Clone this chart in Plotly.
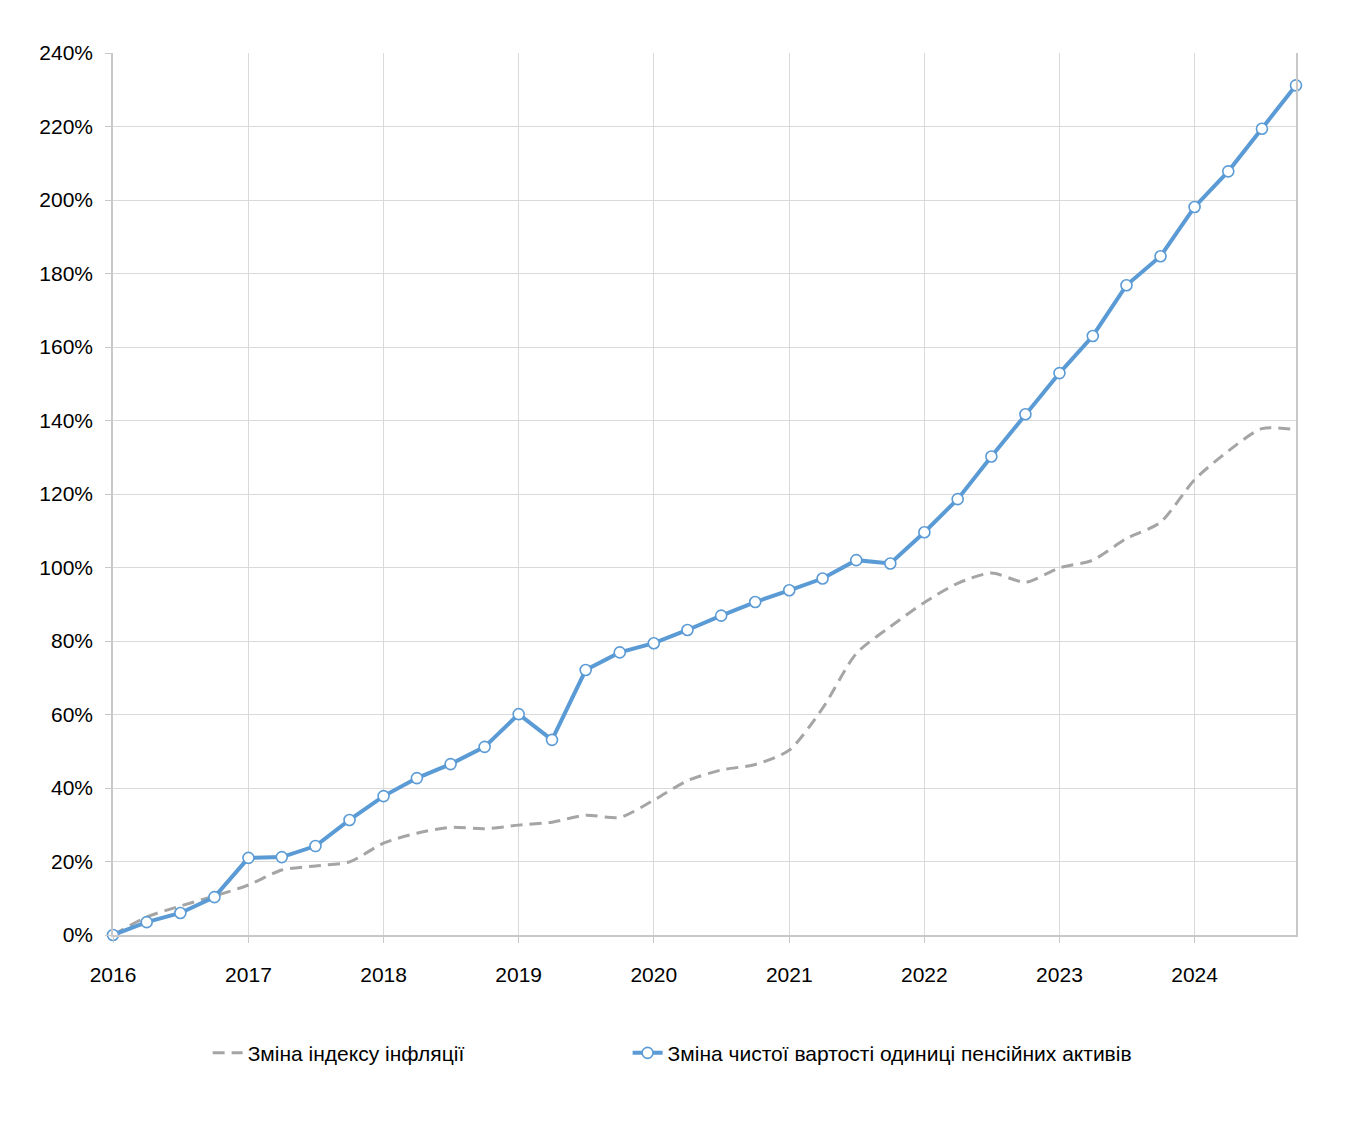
import plotly.graph_objects as go

quarters = [
    "2016-01-01", "2016-04-01", "2016-07-01", "2016-10-01",
    "2017-01-01", "2017-04-01", "2017-07-01", "2017-10-01",
    "2018-01-01", "2018-04-01", "2018-07-01", "2018-10-01",
    "2019-01-01", "2019-04-01", "2019-07-01", "2019-10-01",
    "2020-01-01", "2020-04-01", "2020-07-01", "2020-10-01",
    "2021-01-01", "2021-04-01", "2021-07-01", "2021-10-01",
    "2022-01-01", "2022-04-01", "2022-07-01", "2022-10-01",
    "2023-01-01", "2023-04-01", "2023-07-01", "2023-10-01",
    "2024-01-01", "2024-04-01", "2024-07-01", "2024-10-01",
]

inflation_change = [
    0.0, 4.9, 7.9, 10.6,
    13.6, 17.7, 18.8, 19.9,
    25.0, 27.7, 29.3, 28.9,
    29.9, 30.7, 32.6, 32.0,
    36.7, 42.0, 44.9, 46.4,
    50.3, 61.7, 76.6, 83.9,
    90.5, 95.7, 98.5, 96.0,
    99.9, 102.0, 107.9, 112.3,
    123.9, 131.7, 137.8, 137.5,
]

asset_unit_change = [
    0.0, 3.5, 6.0, 10.3,
    21.0, 21.2, 24.2, 31.3,
    37.8, 42.7, 46.5, 51.2,
    60.1, 53.1, 72.1, 76.9,
    79.4, 83.0, 86.9, 90.6,
    93.8, 97.0, 102.0, 101.1,
    109.6, 118.6, 130.2, 141.7,
    152.9, 163.0, 176.8, 184.7,
    198.1, 207.8, 219.4, 231.2,
]

y_ticks = [0, 20, 40, 60, 80, 100, 120, 140, 160, 180, 200, 220, 240]
y_tick_labels = [f"{v}%" for v in y_ticks]

series_names = [
    "Зміна індексу інфляції",
    "Зміна чистої вартості одиниці пенсійних активів",
]

FONT = "Liberation Sans, Arial, sans-serif"

fig = go.Figure()
fig.add_trace(go.Scatter(
    x=quarters, y=inflation_change, name=series_names[0],
    mode="lines", legend="legend",
    line=dict(color="#a5a5a5", width=3, dash="12px,7px", shape="spline", smoothing=0.7),
))
fig.add_trace(go.Scatter(
    x=quarters, y=asset_unit_change, name=series_names[1],
    mode="lines+markers", legend="legend2", cliponaxis=False,
    line=dict(color="#5b9bd5", width=4),
    marker=dict(symbol="circle", size=11, color="white",
                line=dict(color="#5b9bd5", width=1.6)),
))

legend_common = dict(
    orientation="h", xanchor="left", y=-0.134, yanchor="middle",
    font=dict(family=FONT, size=21, color="#000000"),
    bgcolor="rgba(0,0,0,0)",
)

fig.update_layout(
    width=1357, height=1124,
    margin=dict(l=105, r=69, t=45, b=197),
    paper_bgcolor="white", plot_bgcolor="white",
    font=dict(family=FONT, size=21, color="#000000"),
    showlegend=True,
    legend=dict(x=0.080, **legend_common),
    legend2=dict(x=0.435, **legend_common),
    xaxis=dict(
        type="date",
        range=["2016-01-01", "2024-10-01"],
        dtick="M12", tick0="2016-01-01", tickformat="%Y",
        showgrid=True, gridcolor="#d9d9d9", gridwidth=1,
        showline=True, linecolor="#c8c8c8", linewidth=1.5,
        ticks="outside", ticklen=6, tickcolor="#c8c8c8",
        ticklabelstandoff=14,
        zeroline=False, mirror=False,
    ),
    yaxis=dict(
        range=[0, 240],
        tickvals=y_ticks, ticktext=y_tick_labels,
        showgrid=True, gridcolor="#d9d9d9", gridwidth=1,
        showline=True, linecolor="#c8c8c8", linewidth=1.5,
        ticks="outside", ticklen=6, tickcolor="#c8c8c8",
        ticklabelstandoff=8, mirror=True,
        zeroline=False,
    ),
)

fig.write_html("out.html")
